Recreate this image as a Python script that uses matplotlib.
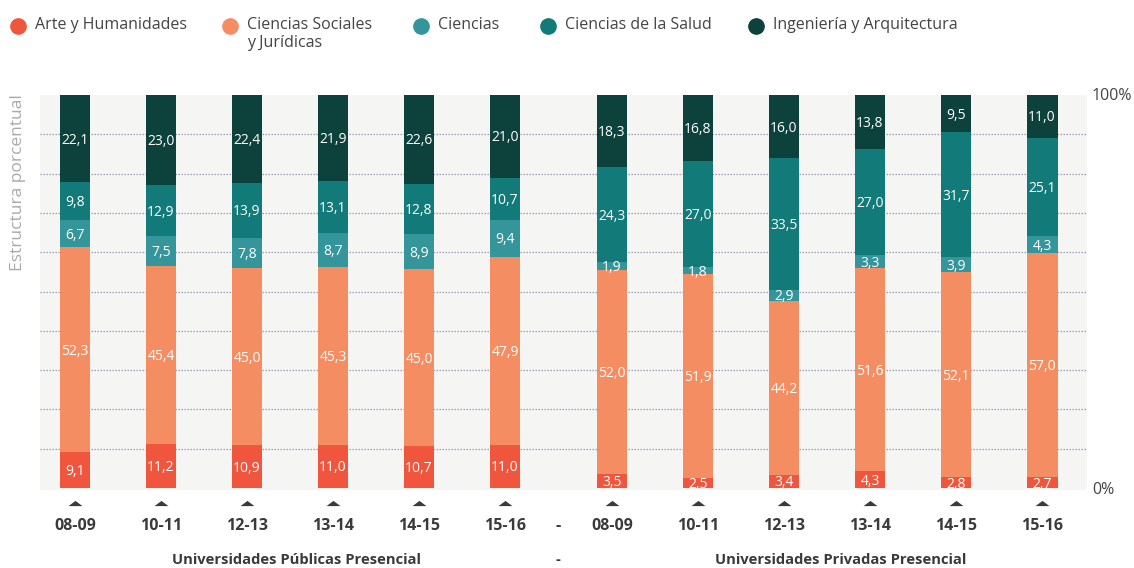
import matplotlib
matplotlib.use("Agg")
import matplotlib.pyplot as plt
from matplotlib.lines import Line2D
import matplotlib.transforms as mtransforms
import numpy as np

plt.rcParams['font.family'] = ['Open Sans', 'DejaVu Sans']

# ---- data ----
periods = ["08-09", "10-11", "12-13", "13-14", "14-15", "15-16"]
series_names = ["Arte y Humanidades", "Ciencias Sociales\ny Jurídicas", "Ciencias",
                "Ciencias de la Salud", "Ingeniería y Arquitectura"]
colors = ["#F0563D", "#F58D63", "#34969A", "#137A7A", "#0D423C"]

publicas_arte = [9.1, 11.2, 10.9, 11.0, 10.7, 11.0]
publicas_soc = [52.3, 45.4, 45.0, 45.3, 45.0, 47.9]
publicas_cien = [6.7, 7.5, 7.8, 8.7, 8.9, 9.4]
publicas_salud = [9.8, 12.9, 13.9, 13.1, 12.8, 10.7]
publicas_ing = [22.1, 23.0, 22.4, 21.9, 22.6, 21.0]

privadas_arte = [3.5, 2.5, 3.4, 4.3, 2.8, 2.7]
privadas_soc = [52.0, 51.9, 44.2, 51.6, 52.1, 57.0]
privadas_cien = [1.9, 1.8, 2.9, 3.3, 3.9, 4.3]
privadas_salud = [24.3, 27.0, 33.5, 27.0, 31.7, 25.1]
privadas_ing = [18.3, 16.8, 16.0, 13.8, 9.5, 11.0]

group_labels = ["Universidades Públicas Presencial", "-", "Universidades Privadas Presencial"]

# ---- layout ----
fig = plt.figure(figsize=(11.34, 5.68), dpi=100)
ax = fig.add_axes([40/1134, 1-490/568, (1087-40)/1134, (490-95)/568])
ax.set_facecolor("#F5F5F3")

gap = 1.244
x_pub = np.arange(6, dtype=float)
x_priv = np.arange(6, dtype=float) + 5 + gap
x_sep = (x_pub[-1] + x_priv[0]) / 2
xs = np.concatenate([x_pub, x_priv])

stacks = [
    publicas_arte + privadas_arte,
    publicas_soc + privadas_soc,
    publicas_cien + privadas_cien,
    publicas_salud + privadas_salud,
    publicas_ing + privadas_ing,
]

ax.set_ylim(-0.5, 100)
ax.set_xlim(-0.407, x_priv[-1] + 0.523)

for yv in range(10, 100, 10):
    ax.axhline(yv, color="#9E9BB5", lw=0.9, ls=(0, (1.2, 1.2)), zorder=1)

bottom = np.zeros(len(xs))
w = 0.36
for vals, col in zip(stacks, colors):
    vals = np.array(vals)
    ax.bar(xs, vals, w, bottom=bottom, color=col, zorder=2, linewidth=0)
    for xi, b, v in zip(xs, bottom, vals):
        ax.text(xi, b + v/2 - 0.4, f"{v:.1f}".replace(".", ","), ha="center", va="center",
                color="white", fontsize=10, zorder=3)
    bottom = bottom + vals

for s in ax.spines.values():
    s.set_visible(False)
ax.set_yticks([])
ax.set_xticks(list(xs) + [x_sep])
ax.set_xticklabels(periods + periods + ["-"], fontsize=11.5, fontweight="bold", color="#3A3A3A")
ax.tick_params(axis="x", length=0, pad=20)

# triangles
trans = mtransforms.blended_transform_factory(ax.transData, ax.transAxes)
tri = [(-1, -0.375), (1, -0.375), (0, 0.375), (-1, -0.375)]
ax.plot(xs, [-12.5/395]*len(xs), ls="none", marker=tri, markersize=10, color="#3A3A3A",
        markeredgewidth=0, transform=trans, clip_on=False)

# right labels
fig.text(1092/1134, 1-96/568, "100%", fontsize=11.5, color="#444444", ha="left", va="center")
fig.text(1092/1134, 1-490/568, "0%", fontsize=11.5, color="#444444", ha="left", va="center")

# y label
fig.text(18/1134, 1-183/568, "Estructura porcentual", rotation=90, fontsize=12.5,
         color="#AAAAAA", ha="center", va="center")

# group labels
fig.text(297/1134, 1-560/568, group_labels[0], fontsize=10.6, fontweight="bold",
         color="#3A3A3A", ha="center", va="center")
fig.text(558/1134, 1-560/568, group_labels[1], fontsize=10.6, fontweight="bold",
         color="#3A3A3A", ha="center", va="center")
fig.text(841/1134, 1-560/568, group_labels[2], fontsize=10.6, fontweight="bold",
         color="#3A3A3A", ha="center", va="center")

# legend (manual)
leg_x = [18, 230, 421, 548, 756]
for lx, name, col in zip(leg_x, series_names, colors):
    fig.add_artist(Line2D([lx/1134], [1-26/568], marker="o", markersize=11, color=col,
                          ls="none", transform=fig.transFigure))
    fig.text((lx+17)/1134, 1-17/568, name, fontsize=11.5, color="#444444",
             ha="left", va="top", linespacing=1.2)

fig.savefig("out.png", dpi=100)
